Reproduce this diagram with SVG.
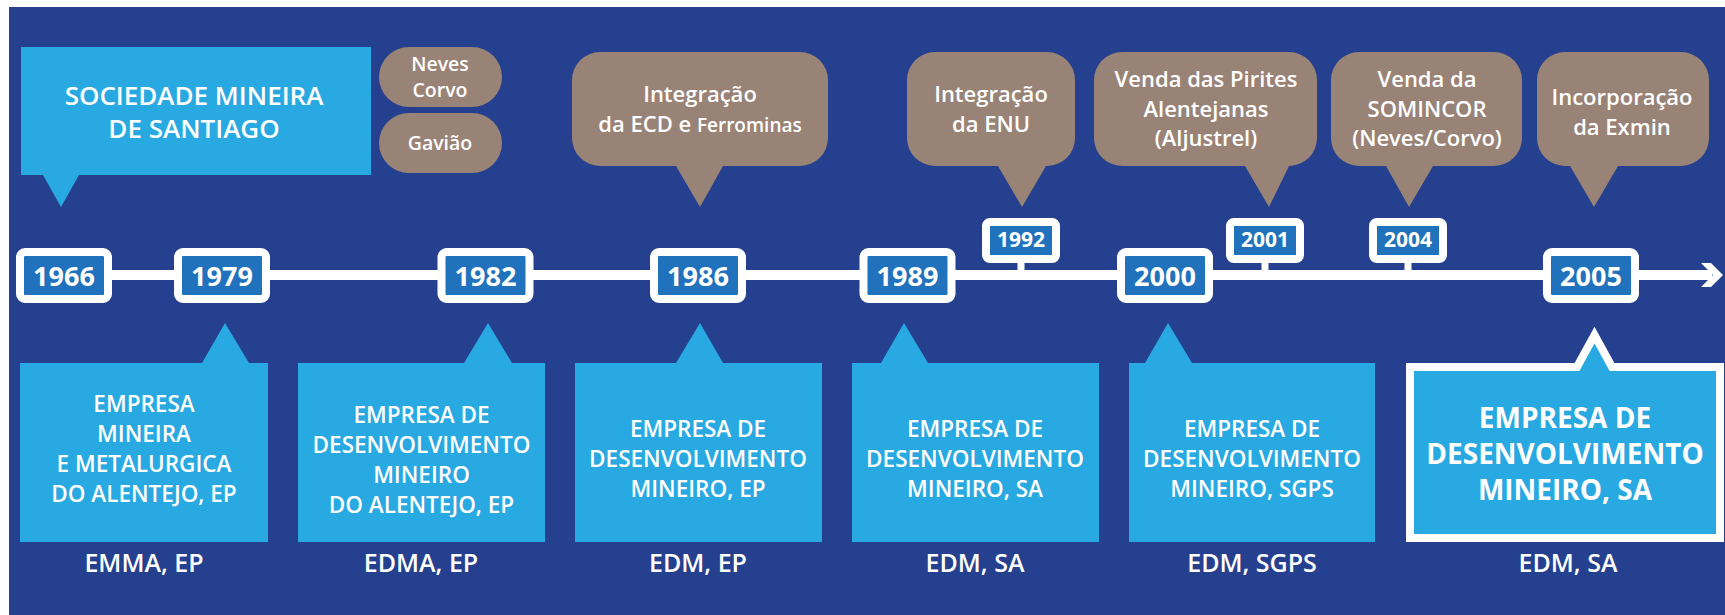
<svg xmlns="http://www.w3.org/2000/svg" width="1725" height="615" viewBox="0 0 1725 615">
<style>
  .t{font-family:"Open Sans","Noto Sans","Liberation Sans",sans-serif;fill:#ffffff;text-anchor:middle}
  .bx{font-size:22.5px;font-weight:600}
  .big{font-size:28px;font-weight:700}
  .lab{font-size:25px;font-weight:600}
  .bub{font-size:22px;font-weight:600}
  .pill{font-size:19.5px;font-weight:600}
  .yr{font-size:27px;font-weight:700}
  .yrs{font-size:21px;font-weight:700}
  .lb{fill:#29a9e1}
  .br{fill:#998376}
  .ybox{fill:#1f72bb;stroke:#ffffff;stroke-width:8}
</style>
<rect x="0" y="0" width="1725" height="615" fill="#ffffff"/>
<rect x="9" y="7" width="1716" height="608" fill="#25408f"/>

<g id="connectors">
  <line x1="20" y1="275" x2="1712" y2="275" stroke="#ffffff" stroke-width="10"/>
  <polygon points="1701,263 1711,263 1723,275 1711,287 1701,287 1713,275" fill="#ffffff"/>
  <rect x="1017.5" y="260" width="7" height="12" fill="#ffffff"/>
  <rect x="1261.5" y="260" width="7" height="12" fill="#ffffff"/>
  <rect x="1404.5" y="260" width="7" height="12" fill="#ffffff"/>
</g>

<g id="sociedade">
  <path class="lb" d="M21,47 H371 V175 H79 L61,207 L43,175 H21 Z"/>
  <text class="t" style="font-size:26px;font-weight:600" x="194" y="105">SOCIEDADE MINEIRA</text>
  <text class="t" style="font-size:26px;font-weight:600" x="194" y="138">DE SANTIAGO</text>
</g>

<g id="neves-corvo">
  <rect class="br" x="379" y="47" width="123" height="60" rx="30"/>
  <text class="t pill" x="440" y="71">Neves</text>
  <text class="t pill" x="440" y="97">Corvo</text>
</g>
<g id="gaviao">
  <rect class="br" x="379" y="113" width="123" height="60" rx="30"/>
  <text class="t pill" x="440" y="150">Gavião</text>
</g>

<g id="ecd">
  <path class="br" d="M600,52 H800 A28,28 0 0 1 828,80 V138 A28,28 0 0 1 800,166 H723 L700,207 L676,166 H600 A28,28 0 0 1 572,138 V80 A28,28 0 0 1 600,52 Z"/>
  <text class="t bub" x="700" y="102">Integração</text>
  <text class="t bub" x="700" y="132">da ECD e <tspan style="font-size:19px">Ferrominas</tspan></text>
</g>

<g id="enu">
  <path class="br" d="M935,52 H1047 A28,28 0 0 1 1075,80 V138 A28,28 0 0 1 1047,166 H1046 L1022,207 L998,166 H935 A28,28 0 0 1 907,138 V80 A28,28 0 0 1 935,52 Z"/>
  <text class="t bub" x="991" y="102">Integração</text>
  <text class="t bub" x="991" y="132">da ENU</text>
</g>

<g id="pirites">
  <path class="br" d="M1122,52 H1289 A28,28 0 0 1 1317,80 V138 A28,28 0 0 1 1289,166 L1269,207 L1245,166 H1122 A28,28 0 0 1 1094,138 V80 A28,28 0 0 1 1122,52 Z"/>
  <text class="t bub" x="1206" y="87">Venda das Pirites</text>
  <text class="t bub" x="1206" y="117">Alentejanas</text>
  <text class="t bub" x="1206" y="146">(Aljustrel)</text>
</g>

<g id="somincor">
  <path class="br" d="M1359,52 H1494 A28,28 0 0 1 1522,80 V138 A28,28 0 0 1 1494,166 H1433 L1409,207 L1386,166 H1359 A28,28 0 0 1 1331,138 V80 A28,28 0 0 1 1359,52 Z"/>
  <text class="t bub" x="1427" y="87">Venda da</text>
  <text class="t bub" x="1427" y="117">SOMINCOR</text>
  <text class="t bub" x="1427" y="146">(Neves/Corvo)</text>
</g>

<g id="exmin">
  <path class="br" d="M1565,52 H1681 A28,28 0 0 1 1709,80 V138 A28,28 0 0 1 1681,166 H1618 L1594,207 L1570,166 H1565 A28,28 0 0 1 1537,138 V80 A28,28 0 0 1 1565,52 Z"/>
  <text class="t bub" x="1622" y="105">Incorporação</text>
  <text class="t bub" x="1622" y="135">da Exmin</text>
</g>

<g id="y1966"><rect class="ybox" x="20" y="252" width="88" height="47" rx="5"/><text class="t yr" x="64" y="286">1966</text></g>
<g id="y1979"><rect class="ybox" x="178" y="252" width="88" height="47" rx="5"/><text class="t yr" x="222" y="286">1979</text></g>
<g id="y1982"><rect class="ybox" x="441.5" y="252" width="88" height="47" rx="5"/><text class="t yr" x="485.5" y="286">1982</text></g>
<g id="y1986"><rect class="ybox" x="654" y="252" width="88" height="47" rx="5"/><text class="t yr" x="698" y="286">1986</text></g>
<g id="y1989"><rect class="ybox" x="863.5" y="252" width="88" height="47" rx="5"/><text class="t yr" x="907.5" y="286">1989</text></g>
<g id="y1992"><rect class="ybox" x="986" y="222" width="70" height="37" rx="4"/><text class="t yrs" x="1021" y="247">1992</text></g>
<g id="y2000"><rect class="ybox" x="1121" y="252" width="88" height="47" rx="5"/><text class="t yr" x="1165" y="286">2000</text></g>
<g id="y2001"><rect class="ybox" x="1230" y="222" width="70" height="37" rx="4"/><text class="t yrs" x="1265" y="247">2001</text></g>
<g id="y2004"><rect class="ybox" x="1373" y="222" width="70" height="37" rx="4"/><text class="t yrs" x="1408" y="247">2004</text></g>
<g id="y2005"><rect class="ybox" x="1547" y="252" width="88" height="47" rx="5"/><text class="t yr" x="1591" y="286">2005</text></g>

<g id="emma">
  <path class="lb" d="M20,363 H202 L225,323 L249,363 H268 V542 H20 Z"/>
  <text class="t bx" x="144" y="412">EMPRESA</text>
  <text class="t bx" x="144" y="442">MINEIRA</text>
  <text class="t bx" x="144" y="472">E METALURGICA</text>
  <text class="t bx" x="144" y="502">DO ALENTEJO, EP</text>
  <text class="t lab" x="144" y="572">EMMA, EP</text>
</g>

<g id="edma">
  <path class="lb" d="M298,363 H464 L488,323 L512,363 H545 V542 H298 Z"/>
  <text class="t bx" x="421.5" y="423">EMPRESA DE</text>
  <text class="t bx" x="421.5" y="453">DESENVOLVIMENTO</text>
  <text class="t bx" x="421.5" y="483">MINEIRO</text>
  <text class="t bx" x="421.5" y="513">DO ALENTEJO, EP</text>
  <text class="t lab" x="421" y="572">EDMA, EP</text>
</g>

<g id="edm-ep">
  <path class="lb" d="M575,363 H676 L700,323 L723,363 H822 V542 H575 Z"/>
  <text class="t bx" x="698" y="437">EMPRESA DE</text>
  <text class="t bx" x="698" y="467">DESENVOLVIMENTO</text>
  <text class="t bx" x="698" y="497">MINEIRO, EP</text>
  <text class="t lab" x="698" y="572">EDM, EP</text>
</g>

<g id="edm-sa-1989">
  <path class="lb" d="M852,363 H881 L904,323 L928,363 H1099 V542 H852 Z"/>
  <text class="t bx" x="975" y="437">EMPRESA DE</text>
  <text class="t bx" x="975" y="467">DESENVOLVIMENTO</text>
  <text class="t bx" x="975" y="497">MINEIRO, SA</text>
  <text class="t lab" x="975" y="572">EDM, SA</text>
</g>

<g id="edm-sgps">
  <path class="lb" d="M1129,363 H1145 L1168,323 L1192,363 H1375 V542 H1129 Z"/>
  <text class="t bx" x="1252" y="437">EMPRESA DE</text>
  <text class="t bx" x="1252" y="467">DESENVOLVIMENTO</text>
  <text class="t bx" x="1252" y="497">MINEIRO, SGPS</text>
  <text class="t lab" x="1252" y="572">EDM, SGPS</text>
</g>

<g id="edm-sa-2005">
  <path class="lb" d="M1410,367 H1577 L1594.5,335 L1612,367 H1720 V538 H1410 Z" stroke="#ffffff" stroke-width="8"/>
  <text class="t big" x="1565" y="428">EMPRESA DE</text>
  <text class="t big" x="1565" y="464">DESENVOLVIMENTO</text>
  <text class="t big" x="1565" y="500">MINEIRO, SA</text>
  <text class="t lab" x="1568" y="572">EDM, SA</text>
</g>
</svg>
